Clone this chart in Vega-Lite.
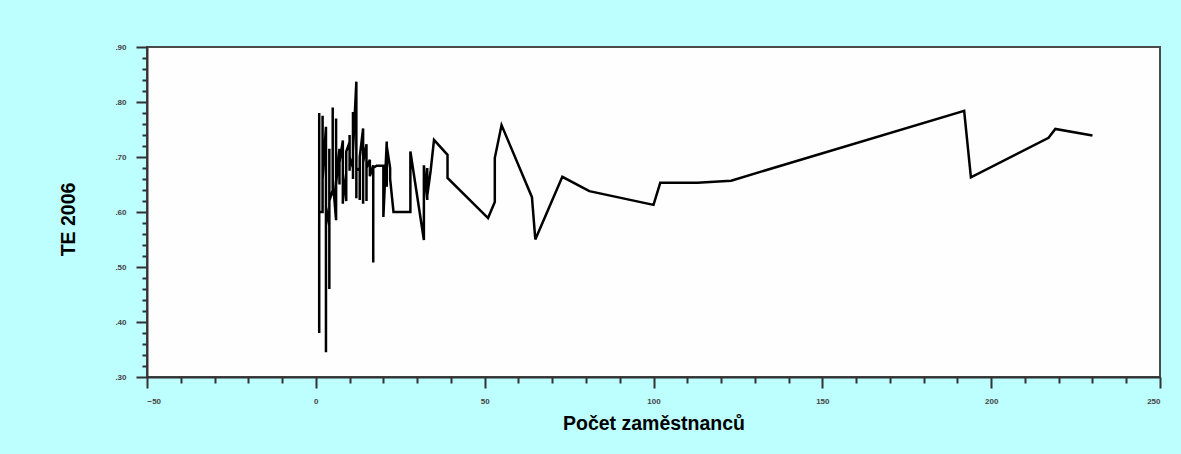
{
  "$schema": "https://vega.github.io/schema/vega-lite/v6.json",
  "width": 1013,
  "height": 330,
  "autosize": {"type": "none"},
  "padding": {"left": 147, "top": 47, "right": 21, "bottom": 77},
  "background": "#BDFEFE",
  "config": {
    "view": {"fill": "#FEFEFE", "stroke": "#4a4a4a", "strokeWidth": 2},
    "axis": {
      "grid": false,
      "domainColor": "#333333",
      "domainWidth": 2,
      "tickColor": "#333333",
      "tickWidth": 2,
      "labelFont": "Liberation Sans",
      "labelFontSize": 8,
      "labelFontWeight": "bold",
      "labelColor": "#444444",
      "titleFont": "Liberation Sans",
      "titleFontSize": 19.5,
      "titleFontWeight": "bold",
      "titleColor": "#000000"
    }
  },
  "data": {
    "values": [
      {"zamestnanci": 1, "te": 0.38},
      {"zamestnanci": 1, "te": 0.78},
      {"zamestnanci": 1, "te": 0.60},
      {"zamestnanci": 2, "te": 0.60},
      {"zamestnanci": 2, "te": 0.775},
      {"zamestnanci": 2, "te": 0.61},
      {"zamestnanci": 2, "te": 0.66},
      {"zamestnanci": 3, "te": 0.755},
      {"zamestnanci": 3, "te": 0.345},
      {"zamestnanci": 3, "te": 0.62},
      {"zamestnanci": 3, "te": 0.69},
      {"zamestnanci": 3, "te": 0.61},
      {"zamestnanci": 4, "te": 0.575},
      {"zamestnanci": 4, "te": 0.46},
      {"zamestnanci": 4, "te": 0.715},
      {"zamestnanci": 4, "te": 0.61},
      {"zamestnanci": 4, "te": 0.68},
      {"zamestnanci": 4, "te": 0.62},
      {"zamestnanci": 5, "te": 0.64},
      {"zamestnanci": 5, "te": 0.79},
      {"zamestnanci": 5, "te": 0.63},
      {"zamestnanci": 5, "te": 0.70},
      {"zamestnanci": 5, "te": 0.66},
      {"zamestnanci": 6, "te": 0.585},
      {"zamestnanci": 6, "te": 0.77},
      {"zamestnanci": 6, "te": 0.64},
      {"zamestnanci": 6, "te": 0.69},
      {"zamestnanci": 6, "te": 0.65},
      {"zamestnanci": 7, "te": 0.715},
      {"zamestnanci": 7, "te": 0.65},
      {"zamestnanci": 7, "te": 0.70},
      {"zamestnanci": 7, "te": 0.66},
      {"zamestnanci": 7, "te": 0.69},
      {"zamestnanci": 8, "te": 0.73},
      {"zamestnanci": 8, "te": 0.615},
      {"zamestnanci": 8, "te": 0.68},
      {"zamestnanci": 8, "te": 0.67},
      {"zamestnanci": 9, "te": 0.62},
      {"zamestnanci": 9, "te": 0.70},
      {"zamestnanci": 9, "te": 0.665},
      {"zamestnanci": 9, "te": 0.71},
      {"zamestnanci": 10, "te": 0.727},
      {"zamestnanci": 10, "te": 0.675},
      {"zamestnanci": 10, "te": 0.74},
      {"zamestnanci": 10, "te": 0.68},
      {"zamestnanci": 10, "te": 0.70},
      {"zamestnanci": 11, "te": 0.68},
      {"zamestnanci": 11, "te": 0.782},
      {"zamestnanci": 11, "te": 0.66},
      {"zamestnanci": 11, "te": 0.71},
      {"zamestnanci": 12, "te": 0.837},
      {"zamestnanci": 12, "te": 0.625},
      {"zamestnanci": 12, "te": 0.70},
      {"zamestnanci": 12, "te": 0.675},
      {"zamestnanci": 13, "te": 0.68},
      {"zamestnanci": 13, "te": 0.622},
      {"zamestnanci": 13, "te": 0.70},
      {"zamestnanci": 14, "te": 0.752},
      {"zamestnanci": 14, "te": 0.615},
      {"zamestnanci": 14, "te": 0.69},
      {"zamestnanci": 15, "te": 0.723},
      {"zamestnanci": 15, "te": 0.62},
      {"zamestnanci": 15, "te": 0.68},
      {"zamestnanci": 16, "te": 0.695},
      {"zamestnanci": 16, "te": 0.665},
      {"zamestnanci": 17, "te": 0.685},
      {"zamestnanci": 17, "te": 0.508},
      {"zamestnanci": 17, "te": 0.68},
      {"zamestnanci": 18, "te": 0.684},
      {"zamestnanci": 20, "te": 0.684},
      {"zamestnanci": 20, "te": 0.591},
      {"zamestnanci": 21, "te": 0.728},
      {"zamestnanci": 21, "te": 0.646},
      {"zamestnanci": 21, "te": 0.72},
      {"zamestnanci": 22, "te": 0.68},
      {"zamestnanci": 22, "te": 0.66},
      {"zamestnanci": 23, "te": 0.60},
      {"zamestnanci": 28, "te": 0.60},
      {"zamestnanci": 28, "te": 0.71},
      {"zamestnanci": 32, "te": 0.549},
      {"zamestnanci": 32, "te": 0.685},
      {"zamestnanci": 33, "te": 0.622},
      {"zamestnanci": 33, "te": 0.68},
      {"zamestnanci": 33, "te": 0.63},
      {"zamestnanci": 34, "te": 0.675},
      {"zamestnanci": 35, "te": 0.731},
      {"zamestnanci": 39, "te": 0.704},
      {"zamestnanci": 39, "te": 0.662},
      {"zamestnanci": 51, "te": 0.589},
      {"zamestnanci": 53, "te": 0.618},
      {"zamestnanci": 53, "te": 0.698},
      {"zamestnanci": 55, "te": 0.758},
      {"zamestnanci": 64, "te": 0.627},
      {"zamestnanci": 65, "te": 0.55},
      {"zamestnanci": 73, "te": 0.664},
      {"zamestnanci": 81, "te": 0.638},
      {"zamestnanci": 100, "te": 0.613},
      {"zamestnanci": 102, "te": 0.653},
      {"zamestnanci": 113, "te": 0.653},
      {"zamestnanci": 123, "te": 0.657},
      {"zamestnanci": 192, "te": 0.784},
      {"zamestnanci": 194, "te": 0.663},
      {"zamestnanci": 217, "te": 0.735},
      {"zamestnanci": 219, "te": 0.751},
      {"zamestnanci": 230, "te": 0.739}
    ]
  },
  "mark": {"type": "line", "color": "#000000", "strokeWidth": 2.5},
  "encoding": {
    "x": {
      "field": "zamestnanci",
      "type": "quantitative",
      "scale": {"domain": [-50, 250], "nice": false, "zero": false},
      "axis": {
        "title": "Počet zaměstnanců",
        "titlePadding": 9,
        "values": [-50, -40, -30, -20, -10, 0, 10, 20, 30, 40, 50, 60, 70, 80, 90, 100, 110, 120, 130, 140, 150, 160, 170, 180, 190, 200, 210, 220, 230, 240, 250],
        "labelExpr": "datum.value % 50 === 0 ? datum.label : ''",
        "labelPadding": 9,
        "tickSize": {"condition": {"test": "datum.value % 50 === 0", "value": 11}, "value": 6}
      }
    },
    "y": {
      "field": "te",
      "type": "quantitative",
      "scale": {"domain": [0.3, 0.9], "nice": false, "zero": false},
      "axis": {
        "title": "TE 2006",
        "titleX": -69,
        "titleY": 172,
        "values": [0.3, 0.32, 0.34, 0.36, 0.38, 0.4, 0.42, 0.44, 0.46, 0.48, 0.5, 0.52, 0.54, 0.56, 0.58, 0.6, 0.62, 0.64, 0.66, 0.68, 0.7, 0.72, 0.74, 0.76, 0.78, 0.8, 0.82, 0.84, 0.86, 0.88, 0.9],
        "labelExpr": "round(datum.value * 100) % 10 === 0 ? replace(format(datum.value, '.2f'), '0.', '.') : ''",
        "labelPadding": 10,
        "tickSize": {"condition": {"test": "round(datum.value * 100) % 10 === 0", "value": 11}, "value": 5}
      }
    }
  }
}
